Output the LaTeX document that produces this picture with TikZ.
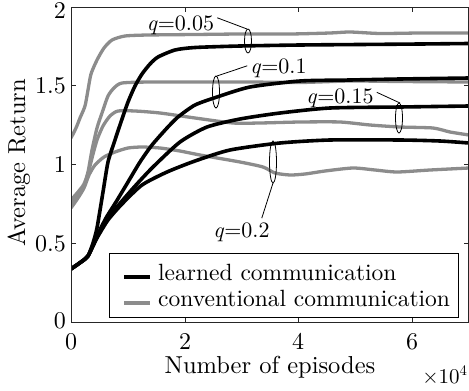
\documentclass[tikz,border=0pt]{standalone}
\usepackage{fontspec}
\setmainfont{lmroman10-regular}[Extension=.otf, ItalicFont=lmroman10-italic, BoldFont=lmroman10-bold]
\definecolor{cgray}{RGB}{140,140,140}
\definecolor{axcol}{RGB}{38,38,38}
\begin{document}
\begin{tikzpicture}[x=1pt,y=-1pt,
  conv/.style={cgray, line width=3.3pt, line join=round},
  learn/.style={black, line width=3.6pt, line join=round},
  ann/.style={black, line width=0.8pt},
  axline/.style={axcol, line width=0.8pt},
  ticklab/.style={font=\fontsize{24}{28}\selectfont, inner sep=0pt, text=black},
  axlab/.style={font=\fontsize{24.5}{28}\selectfont, inner sep=0pt},
  qlab/.style={font=\fontsize{22}{26}\selectfont, inner sep=0pt, anchor=base},
  leglab/.style={font=\fontsize{23.5}{27}\selectfont, inner sep=0pt, anchor=base west}
]
\useasboundingbox (0,0) rectangle (469,391);
% ticks
\foreach \yy in {85.75,164.5,243.25}{
  \draw[axline] (71,\yy) -- (76,\yy);
  \draw[axline] (468.6,\yy) -- (463.6,\yy);
}
\foreach \xx in {185,298,412}{
  \draw[axline] (\xx,322) -- (\xx,317);
  \draw[axline] (\xx,7) -- (\xx,12);
}
% curves
\begin{scope}
\clip (71,7) rectangle (468.6,322);
\draw[conv] plot[smooth,tension=0.4] coordinates {(71,138) (76,128) (80,118) (85,106) (88,90) (91,74) (97,60) (104,48) (112,40) (125,36) (148,35) (195,34.5) (240,34) (290,34) (330,33) (350,32) (380,33.5) (420,33) (469,33)};
\draw[conv] plot[smooth,tension=0.4] coordinates {(71,200) (78,192) (84,184) (88,172) (92,150) (97,128) (102,113) (108,96) (114,88) (122,83) (150,82) (200,82) (250,82) (300,82.5) (350,81) (400,81.5) (469,82)};
\draw[conv] plot[smooth,tension=0.4] coordinates {(71,204) (78,195) (84,186) (88,174) (92,158) (97,140) (103,126) (110,116) (118,111) (135,111) (160,113) (195,118) (233,123) (260,123) (300,122) (340,122) (370,125) (400,127) (433,128) (450,132) (469,135)};
\draw[conv] plot[smooth,tension=0.4] coordinates {(71,208) (78,198) (84,188) (89,175) (95,165) (104,157) (115,152) (128,148) (142,147) (160,148) (180,151) (200,155) (240,162) (263,167) (275,173) (290,175) (305,174) (325,171) (353,168) (375,170) (397,172) (430,170) (469,168)};
\draw[learn] plot[smooth,tension=0.4] coordinates {(71,269) (81,262) (88,256) (93,243) (97,228) (103,192) (108,162) (114,143) (121,122) (128,102) (135,86) (142,74) (150,64) (158,57) (175,50) (195,47.5) (240,46) (300,45) (360,44.5) (420,44) (469,43.5)};
\draw[learn] plot[smooth,tension=0.4] coordinates {(71,269) (81,262) (88,256) (97,236) (106,218) (116,202) (128,182) (140,162) (152,145) (167,128) (178,117) (195,105) (217,97) (250,87) (300,81) (350,80) (400,79) (469,78)};
\draw[learn] plot[smooth,tension=0.4] coordinates {(71,269) (81,262) (88,256) (97,237) (108,218) (122,201) (136,185) (153,167) (180,142) (207,127) (240,119) (280,113) (330,108) (400,107) (469,106)};
\draw[learn] plot[smooth,tension=0.4] coordinates {(71,269) (81,262) (88,256) (97,238) (108,220) (122,204) (142,185) (167,172) (195,161) (230,150) (280,143) (330,140) (400,140) (440,141) (469,143)};
\end{scope}
% axes box
\draw[axline] (71,7) rectangle (468.6,322);
% tick labels
\node[ticklab, anchor=east] (y2) at (66,11) {2};
\node[ticklab, anchor=east] (y15) at (66,86) {1.5};
\node[ticklab, anchor=east] (y1) at (66,165) {1};
\node[ticklab, anchor=east] (y05) at (66,244) {0.5};
\node[ticklab, anchor=east] (y0) at (66,321) {0};
\node[ticklab, anchor=base] (x0) at (71,349) {0};
\node[ticklab, anchor=base] (x2) at (185,349) {2};
\node[ticklab, anchor=base] (x4) at (298,349) {4};
\node[ticklab, anchor=base] (x6) at (412,349) {6};
\node[axlab, anchor=base] (xlab) at (270,373) {Number of episodes};
\node[axlab, anchor=base, rotate=90] (ylab) at (25,162.5) {Average Return};
\node[font=\fontsize{21}{24}\selectfont, inner sep=0pt, anchor=base] (mult) at (445,383) {×10\textsuperscript{4}};
% annotations
\node[qlab] (q1) at (180.5,30) {\textit{q}=0.05};
\node[qlab] (q2) at (278.5,73) {\textit{q}=0.1};
\node[qlab] (q3) at (340,103.5) {\textit{q}=0.15};
\node[qlab] (q4) at (241.5,237) {\textit{q}=0.2};
\draw[ann] (248,41) ellipse [x radius=3.5, y radius=12];
\draw[ann] (216,92) ellipse [x radius=3.5, y radius=16];
\draw[ann] (399,118) ellipse [x radius=3.5, y radius=15];
\draw[ann] (273,162) ellipse [x radius=3.5, y radius=21];
\coordinate (e1) at (247,29);
\coordinate (e2) at (217,76);
\coordinate (e3) at (400,103);
\coordinate (e4) at (273,183);
\draw[ann] (q1.east) ++(3,-7) -- (e1);
\draw[ann] (q2.west) ++(-3,-2) -- (e2);
\draw[ann] (q3.east) ++(3,-6) -- (e3);
\draw[ann] (q4.north east) ++(-8,-4) -- (e4);
% legend
\draw[fill=white, line width=0.8pt] (109,253) rectangle (458,317);
\draw[learn] (124,277) -- (150,277);
\draw[conv] (124,303) -- (150,303);
\node[leglab] (l1) at (158,280) {learned communication};
\node[leglab] (l2) at (158,306) {conventional communication};
\end{tikzpicture}
\end{document}
